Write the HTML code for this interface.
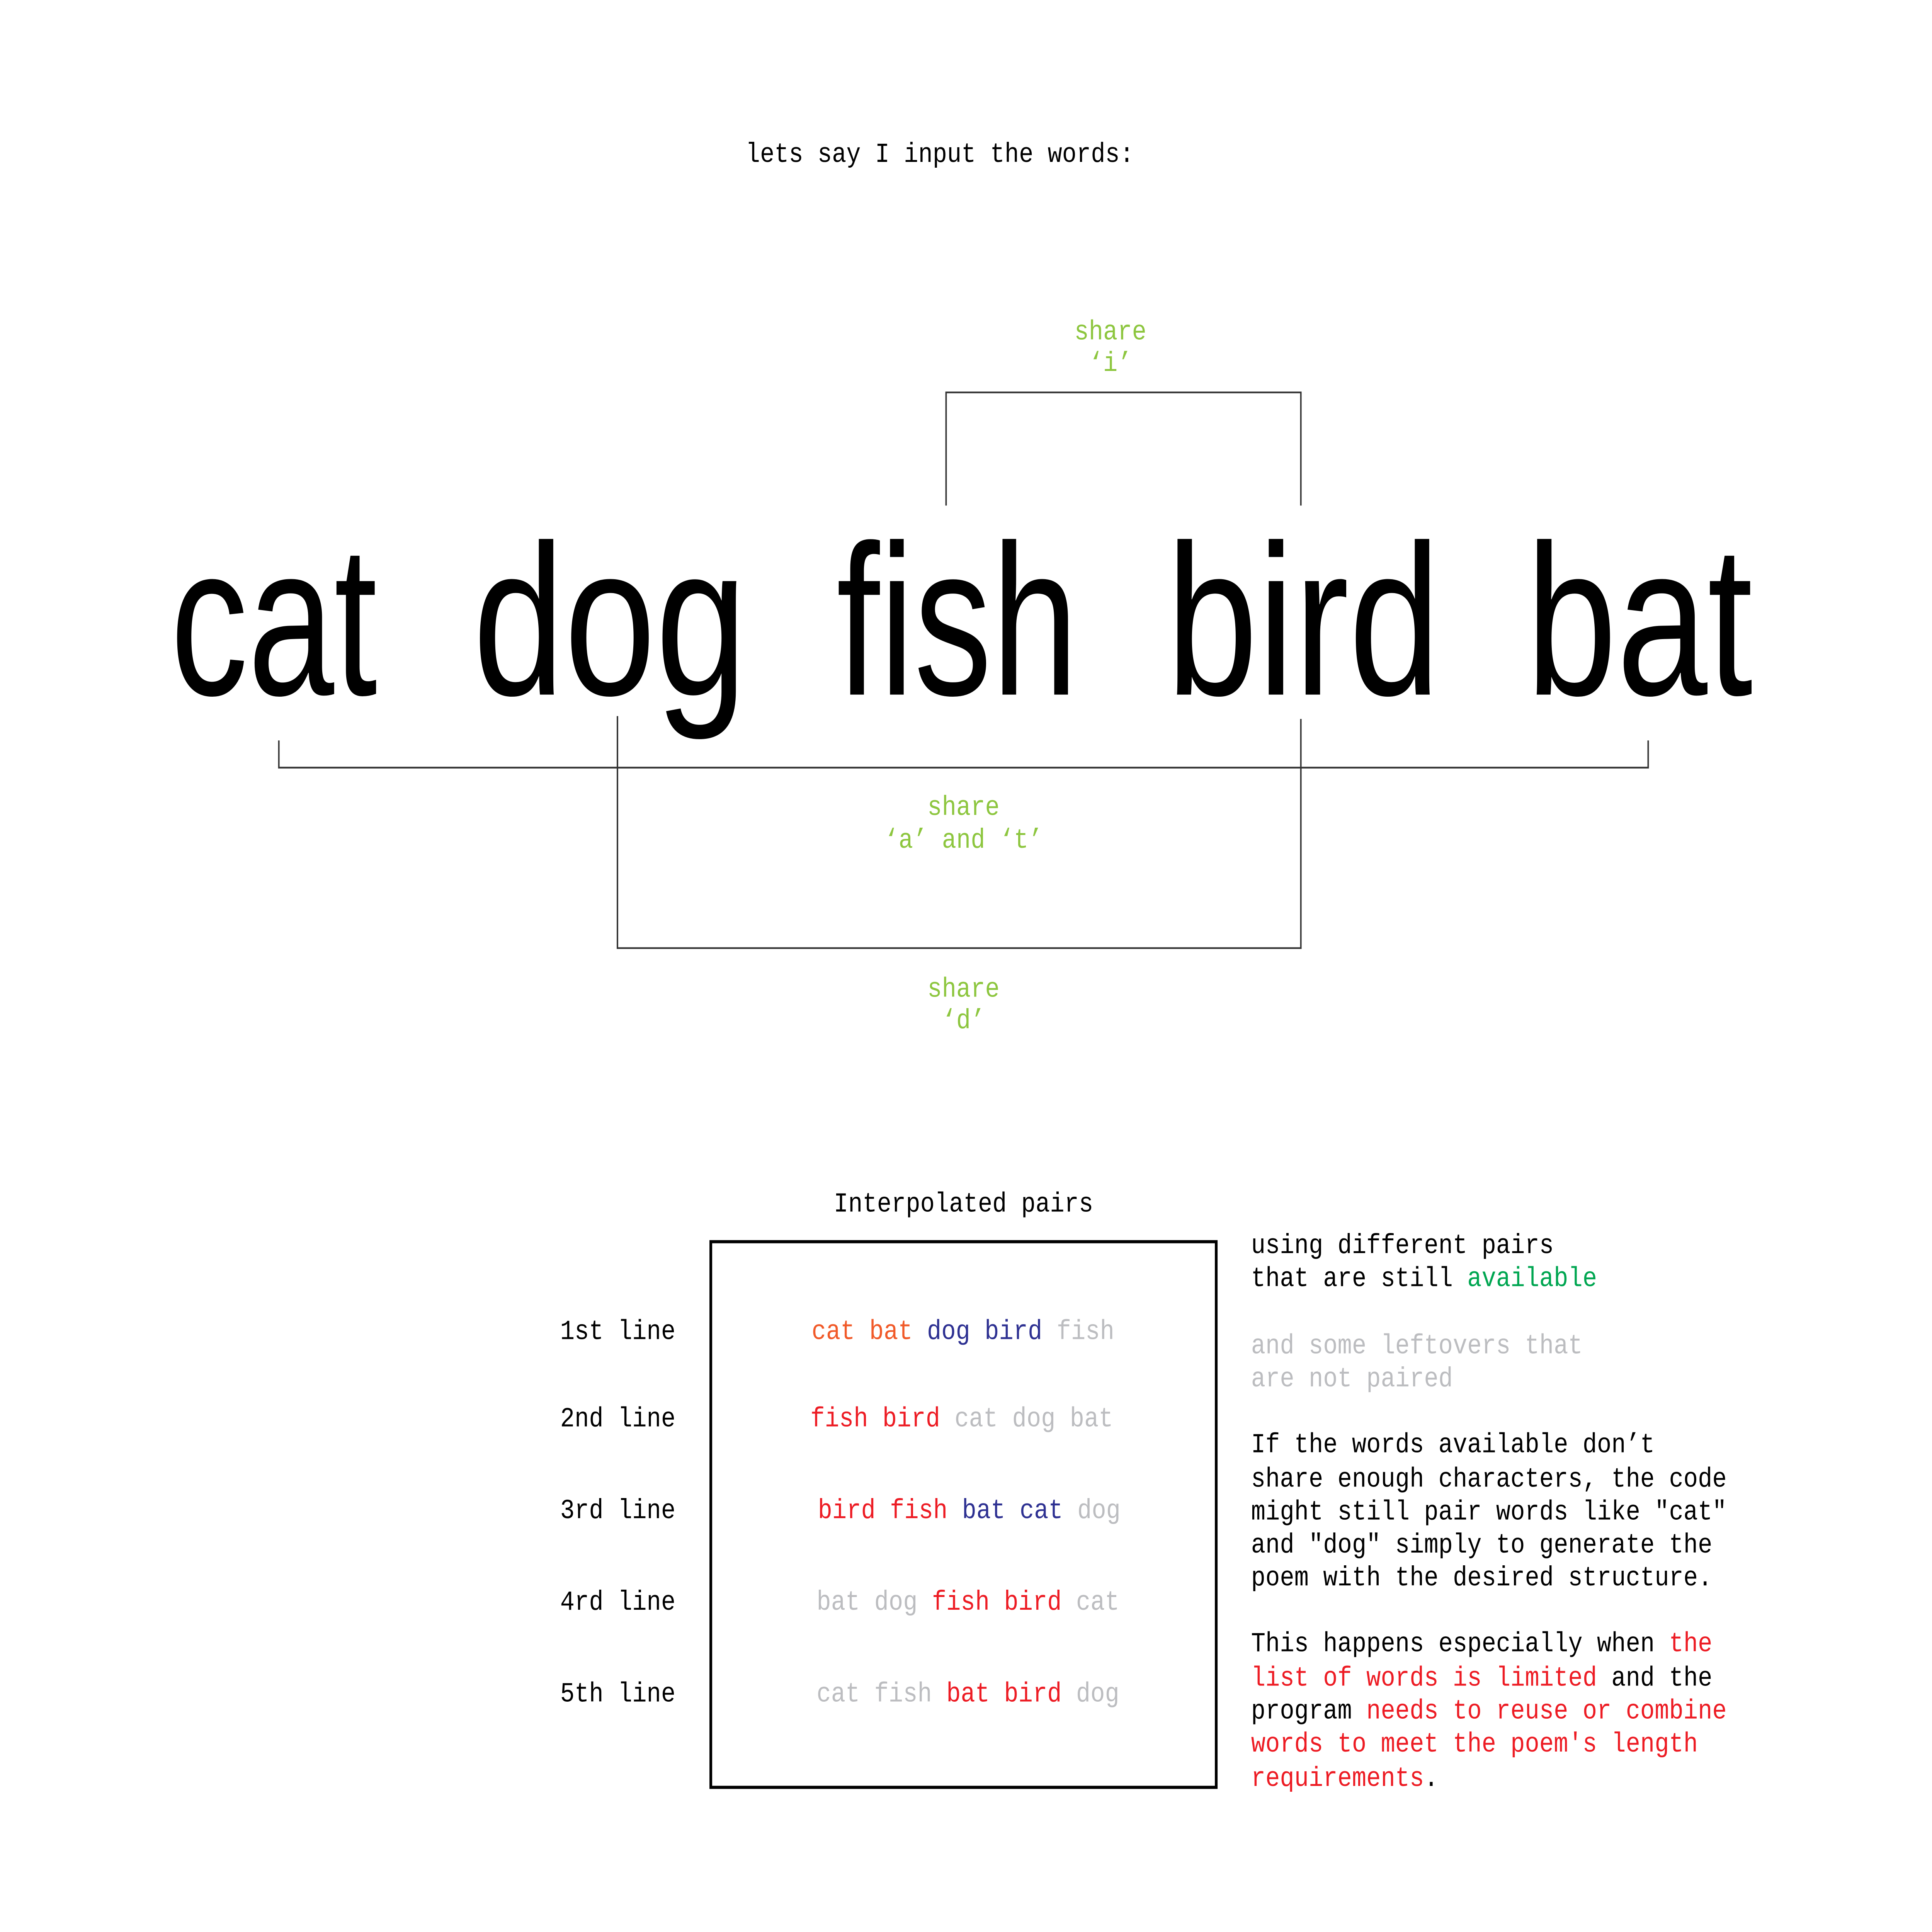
<!DOCTYPE html>
<html><head><meta charset="utf-8"><style>html,body{margin:0;padding:0;background:#fff;width:100%;height:100%;overflow:hidden}svg{display:block;position:fixed;left:0;top:0;width:100vw;height:100vh}</style></head>
<body>
<svg viewBox="0 0 1552 1349" preserveAspectRatio="none" xmlns="http://www.w3.org/2000/svg">
<rect width="1552" height="1349" fill="#fff"/>
<g font-family="Liberation Mono, monospace" font-size="19.3">
<text x="599" y="113" textLength="312" lengthAdjust="spacingAndGlyphs">lets say I input the words:</text>
<g fill="#8dc63f" text-anchor="middle">
<text x="892" y="237">share</text>
<text x="892" y="259">‘i’</text>
<text x="774" y="569">share</text>
<text x="774" y="592">‘a’ and ‘t’</text>
<text x="774" y="696">share</text>
<text x="774" y="718">‘d’</text>
</g>
</g>
<g font-family="Liberation Sans, DejaVu Sans, sans-serif" font-size="150" fill="#000">
<text x="137" y="485" textLength="166" lengthAdjust="spacingAndGlyphs">cat</text>
<text x="380" y="485" textLength="220" lengthAdjust="spacingAndGlyphs">dog</text>
<text x="672" y="485" textLength="194" lengthAdjust="spacingAndGlyphs">fish</text>
<text x="937" y="485" textLength="220" lengthAdjust="spacingAndGlyphs">bird</text>
<text x="1226" y="485" textLength="182" lengthAdjust="spacingAndGlyphs">bat</text>
</g>
<g stroke="#333" stroke-width="1.2" fill="none">
<polyline points="760,353 760,274 1045,274 1045,353"/>
<polyline points="224,517 224,536 1324,536 1324,517"/>
<polyline points="496,500 496,662 1045,662 1045,502"/>
</g>
<rect x="571" y="867" width="406" height="381" fill="none" stroke="#000" stroke-width="2.2"/>
<g font-family="Liberation Mono, monospace" font-size="19.3" xml:space="preserve">
<text x="774" y="846" text-anchor="middle">Interpolated pairs</text>
<text x="450" y="935">1st line</text>
<text x="450" y="996">2nd line</text>
<text x="450" y="1060">3rd line</text>
<text x="450" y="1124">4rd line</text>
<text x="450" y="1188">5th line</text>
<text x="652" y="935"><tspan fill="#f15a29">cat bat</tspan> <tspan fill="#2e3192">dog bird</tspan> <tspan fill="#bcbdc0">fish</tspan></text>
<text x="651" y="996"><tspan fill="#ed1c24">fish bird</tspan> <tspan fill="#bcbdc0">cat dog bat</tspan></text>
<text x="657" y="1060"><tspan fill="#ed1c24">bird fish</tspan> <tspan fill="#2e3192">bat cat</tspan> <tspan fill="#bcbdc0">dog</tspan></text>
<text x="656" y="1124"><tspan fill="#bcbdc0">bat dog</tspan> <tspan fill="#ed1c24">fish bird</tspan> <tspan fill="#bcbdc0">cat</tspan></text>
<text x="656" y="1188"><tspan fill="#bcbdc0">cat fish</tspan> <tspan fill="#ed1c24">bat bird</tspan> <tspan fill="#bcbdc0">dog</tspan></text>
<text x="1005" y="875">using different pairs</text>
<text x="1005" y="898">that are still <tspan fill="#00a651">available</tspan></text>
<text x="1005" y="945" fill="#bcbdc0">and some leftovers that</text>
<text x="1005" y="968" fill="#bcbdc0">are not paired</text>
<text x="1005" y="1014">If the words available don’t</text>
<text x="1005" y="1038">share enough characters, the code</text>
<text x="1005" y="1061">might still pair words like "cat"</text>
<text x="1005" y="1084">and "dog" simply to generate the</text>
<text x="1005" y="1107">poem with the desired structure.</text>
<text x="1005" y="1153">This happens especially when <tspan fill="#ed1c24">the</tspan></text>
<text x="1005" y="1177"><tspan fill="#ed1c24">list of words is limited</tspan> and the</text>
<text x="1005" y="1200">program <tspan fill="#ed1c24">needs to reuse or combine</tspan></text>
<text x="1005" y="1223" fill="#ed1c24">words to meet the poem's length</text>
<text x="1005" y="1247"><tspan fill="#ed1c24">requirements</tspan>.</text>
</g>
</svg>
</body></html>
